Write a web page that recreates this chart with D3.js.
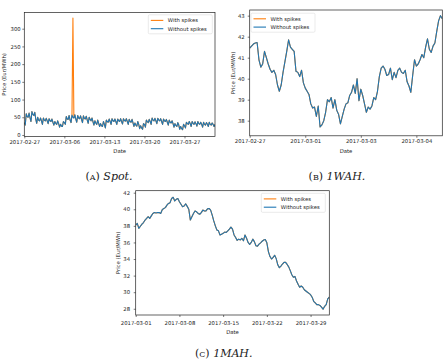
<!DOCTYPE html>
<html>
<head>
<meta charset="utf-8">
<script src="https://cdn.jsdelivr.net/npm/d3@7"></script>
<style>
  body { margin: 0; background: #fff; }
  svg text { font-family: 'DejaVu Sans', sans-serif; fill: #222; }
  .caption { font-family: 'DejaVu Serif', serif; }
</style>
</head>
<body>
<script>
// ---- DATA ----
// (A) Spot: one reading every 4 hours from 2017-02-27 00:00
const spotStart = Date.UTC(2017, 1, 27);
const spotStepHours = 4;
const spotWithout = [
  35, 28, 60, 52, 50, 62,
  48, 38, 66, 58, 55, 64,
  45, 33, 50, 42, 40, 48,
  40, 30, 48, 42, 40, 47,
  40, 32, 46, 40, 38, 45,
  36, 28, 38, 33, 30, 40,
  32, 22, 30, 25, 24, 38,
  35, 30, 52, 45, 44, 55,
  42, 35, 56, 50, 48, 57,
  45, 36, 55, 48, 46, 54,
  44, 35, 54, 47, 45, 53,
  42, 33, 50, 44, 40, 48,
  38, 28, 40, 34, 30, 42,
  33, 24, 32, 26, 24, 38,
  30, 20, 42, 38, 36, 45,
  38, 30, 46, 40, 38, 45,
  38, 30, 45, 40, 38, 46,
  38, 31, 46, 41, 39, 46,
  38, 30, 44, 38, 36, 44,
  34, 24, 34, 28, 25, 38,
  30, 18, 26, 20, 16, 32,
  30, 22, 42, 38, 35, 44,
  38, 30, 48, 42, 40, 47,
  40, 32, 47, 42, 40, 46,
  38, 30, 45, 40, 38, 44,
  36, 28, 42, 36, 34, 40,
  32, 22, 32, 27, 24, 35,
  28, 16, 24, 18, 15, 30,
  26, 20, 36, 32, 30, 38,
  32, 24, 38, 33, 30, 37,
  32, 25, 38, 32, 30, 36,
  30, 22, 36, 30, 28, 35,
  30, 24, 36, 30, 28, 34,
  30, 24, 30
];
const spotSpikes = [{ index: 51, value: 330 }];
const spotXTicks = ['2017-02-27', '2017-03-06', '2017-03-13', '2017-03-20', '2017-03-27'];
const spotYTicks = [0, 50, 100, 150, 200, 250, 300];

// (B) 1WAH: plotted against sample number, labelled with dates
const wahValues = [
  41.45, 41.55, 41.65, 41.7, 41.72, 40.9, 40.55, 40.7, 41.3, 41.0,
  40.7, 40.45, 40.3, 40.4, 40.2, 39.7, 39.4, 39.7, 40.3, 40.8,
  41.3, 41.85, 41.5, 41.4, 41.3, 40.35, 40.3, 40.1, 40.4, 39.8,
  39.55, 39.4, 39.25, 38.8, 38.6, 38.65, 38.2, 38.7, 37.7, 37.8,
  38.0, 38.4, 39.0, 38.9, 39.1, 38.6, 39.0, 38.5, 38.3, 37.85,
  38.2, 38.55, 38.8, 38.85, 39.2, 39.35, 39.7, 39.3, 40.0, 38.95,
  39.5, 39.2, 38.8, 38.4, 38.65, 38.55, 38.7, 39.1, 39.0, 39.4,
  40.1, 40.5, 40.6, 40.45, 40.15, 40.2, 40.5, 39.95, 40.3, 40.05,
  40.4, 40.5, 40.3, 40.25, 40.4, 39.85, 39.65, 39.35, 40.15, 40.9,
  40.6, 40.7, 40.9, 41.15, 41.0, 41.5, 41.9, 41.4, 41.25, 41.55,
  41.7, 42.25, 42.75, 43.0, 42.85
];
const wahXTickIndex = [0, 30, 60, 90];
const wahXTickLabels = ['2017-02-27', '2017-03-01', '2017-03-03', '2017-03-04'];
const wahYTicks = [38, 39, 40, 41, 42, 43];

// (C) 1MAH: one reading every 6 hours from 2017-03-01 00:00
const mahStart = Date.UTC(2017, 2, 1);
const mahStepHours = 6;
const mahValues = [
  38.1, 38.3, 37.7, 37.95, 38.2, 38.4, 38.7, 38.9, 39.1, 38.9,
  39.2, 39.5, 39.6, 39.55, 39.6, 39.6, 39.5, 39.95, 40.1, 40.2,
  40.5, 40.7, 40.8, 41.3, 41.45, 41.0, 41.2, 41.3, 40.9, 40.6,
  40.3, 40.4, 40.65, 40.35, 40.0, 38.7, 39.1, 39.5, 39.8, 39.7,
  39.5, 39.4, 39.6, 39.9, 39.8, 39.8, 40.05, 40.1, 39.9, 39.3,
  38.6, 38.0, 37.5, 37.4, 36.9, 37.0, 37.1, 37.25, 37.2, 37.4,
  37.6, 37.85, 37.6, 36.9, 36.6, 36.25, 36.4, 36.3, 36.5, 36.2,
  36.9, 36.5, 36.0, 35.75, 36.0, 36.4, 36.1, 35.6, 35.55, 35.8,
  35.95, 36.15, 36.3, 36.35, 35.95, 34.9, 34.3, 34.0, 34.2, 34.45,
  34.05, 33.3, 32.95, 33.15, 33.4, 33.6, 33.6, 33.35, 33.05, 32.6,
  32.1, 31.8, 31.9, 31.35, 30.95, 30.6, 30.75, 30.6, 30.3, 30.15,
  30.0, 29.85, 29.7, 29.4, 28.9, 28.7, 28.5, 28.5, 28.4, 28.2,
  27.95, 28.3, 28.5, 29.2, 29.4
];
const mahXTicks = ['2017-03-01', '2017-03-08', '2017-03-15', '2017-03-22', '2017-03-29'];
const mahYTicks = [28, 30, 32, 34, 36, 38, 40, 42];

const seriesNames = ['With spikes', 'Without spikes'];
const seriesColors = ['#ff7f0e', '#1f77b4'];

// ---- BUILD SERIES ----
const hour = 3600 * 1000;
const spotWithoutPts = spotWithout.map((v, i) => ({ x: new Date(spotStart + i * spotStepHours * hour), y: v }));
const spotWithPts = spotWithoutPts.map((p, i) => {
  const s = spotSpikes.find(d => d.index === i);
  return { x: p.x, y: s ? s.value : p.y };
});
const wahPts = wahValues.map((v, i) => ({ x: i, y: v }));
const mahPts = mahValues.map((v, i) => ({ x: new Date(mahStart + i * mahStepHours * hour), y: v }));

const parseDay = d3.utcParse('%Y-%m-%d');
const fmtDay = d3.utcFormat('%Y-%m-%d');

// ---- SVG ----
const width = 444, height = 362;
const svg = d3.select('body').append('svg')
  .attr('width', width)
  .attr('height', height);

const fontSize = 5.3;

function drawPanel(cfg) {
  const g = svg.append('g');
  const x = cfg.xScale.range([cfg.left, cfg.right]);
  const y = d3.scaleLinear().domain(cfg.yDomain).range([cfg.bottom, cfg.top]);

  const line = d3.line().x(d => x(d.x)).y(d => y(d.y));

  g.append('defs').append('clipPath').attr('id', cfg.id + '-clip')
    .append('rect')
    .attr('x', cfg.left).attr('y', cfg.top)
    .attr('width', cfg.right - cfg.left).attr('height', cfg.bottom - cfg.top);

  const plot = g.append('g').attr('clip-path', `url(#${cfg.id}-clip)`);
  cfg.series.forEach((s, i) => {
    plot.append('path')
      .datum(s)
      .attr('fill', 'none')
      .attr('stroke', seriesColors[i])
      .attr('stroke-width', 1.1)
      .attr('stroke-linejoin', 'round')
      .attr('d', line);
  });

  // AXES
  const xAxis = d3.axisBottom(x)
    .tickValues(cfg.xTickValues)
    .tickFormat(cfg.xTickFormat)
    .tickSize(2)
    .tickPadding(cfg.xPad);
  const gx = g.append('g')
    .attr('transform', `translate(0, ${cfg.bottom})`)
    .call(xAxis);

  const yAxis = d3.axisLeft(y)
    .tickValues(cfg.yTicks)
    .tickFormat(d3.format('d'))
    .tickSize(2)
    .tickPadding(cfg.yPad);
  const gy = g.append('g')
    .attr('transform', `translate(${cfg.left}, 0)`)
    .call(yAxis);

  [gx, gy].forEach(a => {
    a.select('.domain').remove();
    a.selectAll('line').attr('stroke', '#222').attr('stroke-width', 0.6);
    a.selectAll('text').style('font-size', fontSize + 'px').attr('fill', '#222');
  });

  // FRAME
  g.append('rect')
    .attr('x', cfg.left).attr('y', cfg.top)
    .attr('width', cfg.right - cfg.left).attr('height', cfg.bottom - cfg.top)
    .attr('fill', 'none')
    .attr('stroke', '#222')
    .attr('stroke-width', 0.7);

  // LABELS
  g.append('text')
    .attr('x', (cfg.left + cfg.right) / 2)
    .attr('y', cfg.dateY)
    .attr('text-anchor', 'middle')
    .style('font-size', fontSize + 'px')
    .text('Date');

  g.append('text')
    .attr('transform', `translate(${cfg.priceX}, ${(cfg.top + cfg.bottom) / 2}) rotate(-90)`)
    .attr('text-anchor', 'middle')
    .attr('dy', '0.35em')
    .style('font-size', fontSize + 'px')
    .text('Price (Eur/MWh)');

  // LEGEND
  const lw = 64, lh = 19;
  const lg = g.append('g').attr('transform', `translate(${cfg.legendX}, ${cfg.legendY})`);
  lg.append('rect')
    .attr('width', lw).attr('height', lh)
    .attr('rx', 1.2)
    .attr('fill', '#fff').attr('fill-opacity', 0.8)
    .attr('stroke', '#d5d5d5').attr('stroke-width', 0.5);
  seriesNames.forEach((name, i) => {
    const yy = 5.6 + i * 8.3;
    lg.append('line')
      .attr('x1', 2.5).attr('x2', 15)
      .attr('y1', yy).attr('y2', yy)
      .attr('stroke', seriesColors[i]).attr('stroke-width', 1.1);
    lg.append('text')
      .attr('x', 19.5).attr('y', yy)
      .attr('dy', '0.35em')
      .style('font-size', fontSize + 'px')
      .text(name);
  });

  // CAPTION
  const cap = svg.append('text')
    .attr('class', 'caption')
    .attr('x', cfg.capX).attr('y', cfg.capY)
    .attr('text-anchor', 'middle')
    .style('font-size', '11px');
  cap.append('tspan').style('font-variant', 'small-caps').text(cfg.capLabel);
  cap.append('tspan').style('font-style', 'italic').text(' ' + cfg.capName);
}

// (A) Spot
drawPanel({
  id: 'spot',
  left: 24.3, right: 215, top: 12.4, bottom: 136.4,
  xScale: d3.scaleUtc().domain(d3.extent(spotWithoutPts, d => d.x)),
  xTickValues: spotXTicks.map(parseDay),
  xTickFormat: fmtDay,
  yDomain: [-4, 346],
  yTicks: spotYTicks,
  series: [spotWithPts, spotWithoutPts],
  xPad: 1.8, yPad: 1.6,
  dateY: 152.6, priceX: 4.5,
  legendX: 148.3, legendY: 14.8,
  capX: 109, capY: 179.5, capLabel: '(a)', capName: 'Spot.'
});

// (B) 1WAH
drawPanel({
  id: 'wah',
  left: 249.7, right: 442.3, top: 10, bottom: 135.8,
  xScale: d3.scaleLinear().domain([0, wahValues.length - 1]),
  xTickValues: wahXTickIndex,
  xTickFormat: (d, i) => wahXTickLabels[i],
  yDomain: [37.28, 43.27],
  yTicks: wahYTicks,
  series: [wahPts, wahPts],
  xPad: 1.8, yPad: 3,
  dateY: 152.6, priceX: 233,
  legendX: 251, legendY: 13.2,
  capX: 337, capY: 179.5, capLabel: '(b)', capName: '1WAH.'
});

// (C) 1MAH
drawPanel({
  id: 'mah',
  left: 135.7, right: 329.3, top: 190.7, bottom: 315,
  xScale: d3.scaleUtc().domain(d3.extent(mahPts, d => d.x)),
  xTickValues: mahXTicks.map(parseDay),
  xTickFormat: fmtDay,
  yDomain: [27.25, 42.24],
  yTicks: mahYTicks,
  series: [mahPts, mahPts],
  xPad: 4.5, yPad: 3.7,
  dateY: 333.5, priceX: 118.3,
  legendX: 261.3, legendY: 193.3,
  capX: 223.7, capY: 357, capLabel: '(c)', capName: '1MAH.'
});
</script>
</body>
</html>
